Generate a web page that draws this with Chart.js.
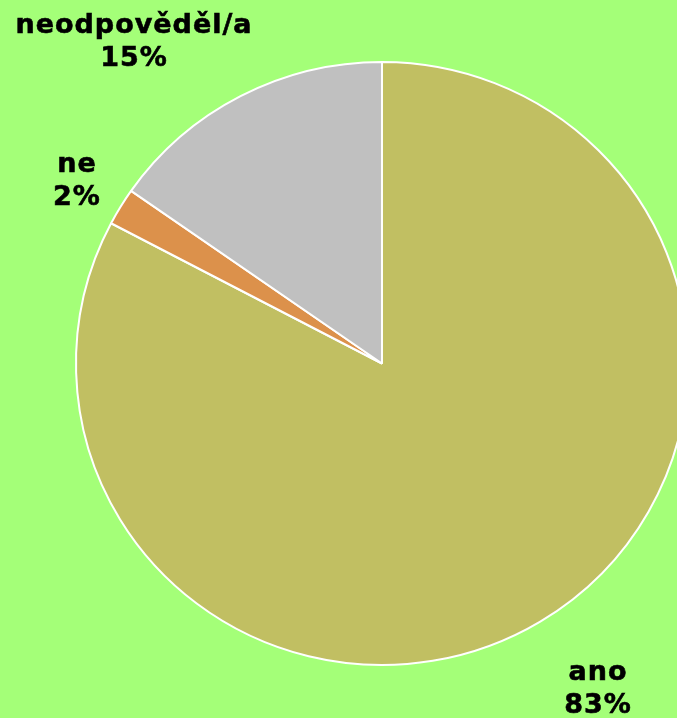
<!DOCTYPE html>
<html>
<head>
<meta charset="utf-8">
<script src="https://cdn.jsdelivr.net/npm/chart.js@4"></script>
<style>
  html, body { margin: 0; padding: 0; background: #a4ff78; overflow: hidden; }
  #wrap { width: 764px; height: 718px; }
</style>
</head>
<body>
<div id="wrap"><canvas id="pieChart"></canvas></div>
<script>
const categories = ['ano', 'ne', 'neodpověděl/a'];
const values = [82.7, 2.0, 15.3];
const sliceColors = ['#c1bf62', '#dc914b', '#c0c0c0'];

// centre of each text block
const labelSpots = [
    { x: 598, y: 672 },
    { x: 77, y: 164 },
    { x: 134, y: 25 }
];

// the original pie is a touch wider than tall
const stretchX = 1.015;

const widenPie = {
    id: 'widenPie',
    beforeDatasetsDraw(chart) {
        const arc = chart.getDatasetMeta(0).data[0];
        const ctx = chart.ctx;
        ctx.save();
        ctx.translate(arc.x, arc.y);
        ctx.scale(stretchX, 1);
        ctx.translate(-arc.x, -arc.y);
    },
    afterDatasetsDraw(chart) {
        chart.ctx.restore();
    }
};

const outsideLabels = {
    id: 'outsideLabels',
    afterDraw(chart) {
        const ctx = chart.ctx;
        const total = values.reduce((a, b) => a + b, 0);
        ctx.save();
        ctx.font = 'bold 27px "DejaVu Sans"';
        ctx.letterSpacing = '1px';
        ctx.fillStyle = '#000';
        ctx.strokeStyle = '#000';
        ctx.lineWidth = 0.6;
        ctx.textAlign = 'center';
        ctx.textBaseline = 'alphabetic';
        categories.forEach(function(name, i) {
            const p = labelSpots[i];
            const pct = Math.round(values[i] / total * 100) + '%';
            ctx.fillText(name, p.x, p.y + 8);
            ctx.strokeText(name, p.x, p.y + 8);
            ctx.fillText(pct, p.x, p.y + 41);
            ctx.strokeText(pct, p.x, p.y + 41);
        });
        ctx.restore();
    }
};

document.addEventListener('DOMContentLoaded', function() {
    const ctx = document.getElementById('pieChart').getContext('2d');

    new Chart(ctx, {
        type: 'pie',
        data: {
            labels: categories,
            datasets: [{
                data: values,
                backgroundColor: sliceColors,
                borderColor: '#ffffff',
                borderWidth: 2
            }]
        },
        options: {
            responsive: true,
            maintainAspectRatio: false,
            animation: false,
            layout: {
                padding: { top: 61, bottom: 52, left: 0, right: 0 }
            },
            plugins: {
                legend: { display: false },
                tooltip: { enabled: false }
            }
        },
        plugins: [widenPie, outsideLabels]
    });
});
</script>
</body>
</html>
